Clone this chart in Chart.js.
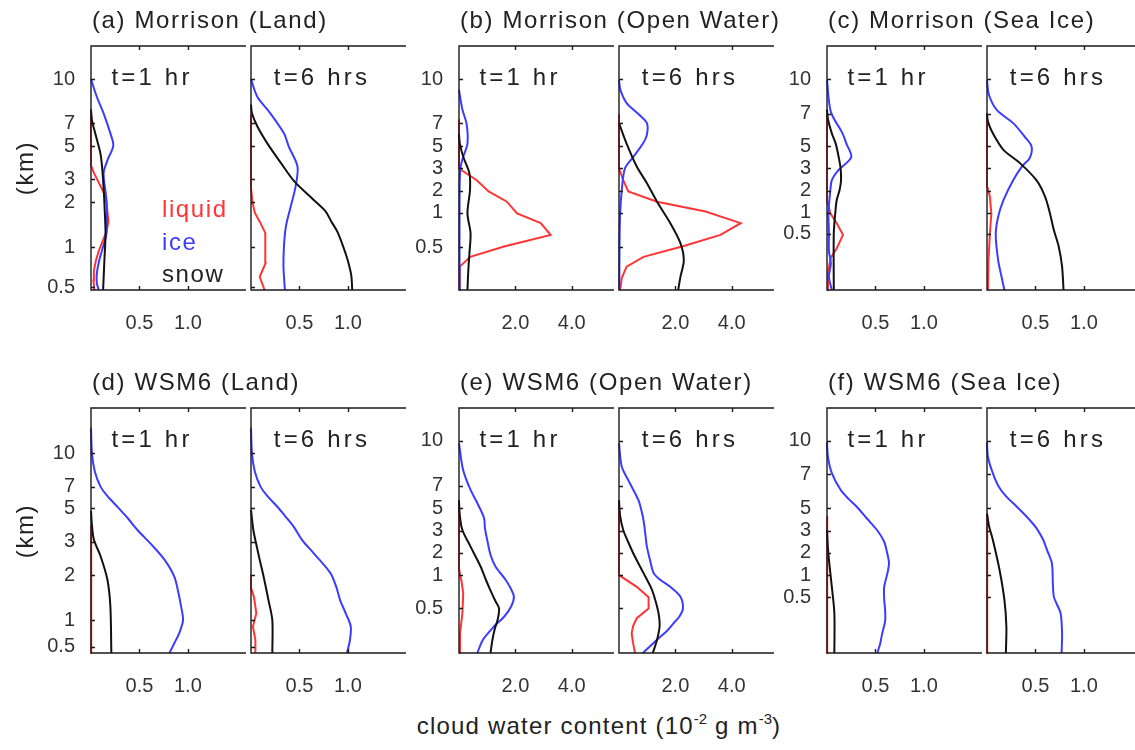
<!DOCTYPE html>
<html lang="en">
<head>
  <meta charset="UTF-8" />
  <title>Cloud water content profiles</title>
  <script src="https://cdn.jsdelivr.net/npm/chart.js"></script>
  <style>
    body { margin: 0; background: #fff; font-family: "Liberation Sans", Arial, Helvetica, sans-serif; color: #222; }
    #fig { position: relative; width: 1135px; height: 750px; overflow: hidden; }
    #fig canvas { position: absolute; }
    .txt { position: absolute; font-size: 24px; line-height: 24px; letter-spacing: 1.6px; white-space: nowrap; }
    .tlabel { letter-spacing: 3.2px; transform: translateX(-50%); }
    .sup { font-size: 15px; position: relative; top: -10px; letter-spacing: 0; }
  </style>
</head>
<body>
<div id="fig"></div>
<script>
  // vertical coordinate = model level (0 = surface, 50 = top of plot)
  // each profile: [level, cloud water content (1e-2 g m-3)]

  // (a) Morrison, land
  const aLiq1 = [[0,0.035],[2,0.025],[4,0.03],[6,0.05],[8,0.08],[10,0.12],[12,0.16],[14,0.18],[16,0.17],[18,0.16],[20,0.13],[22,0.08],[24,0.03],[25.5,0],[36,0]];
  const aIce1 = [[0,0.08],[1.4,0.06],[3.4,0.06],[6.1,0.085],[8.9,0.125],[11.6,0.16],[18.4,0.16],[23.9,0.13],[26.6,0.17],[29.6,0.23],[32.1,0.2],[36.2,0.13],[39.6,0.06],[43.2,0]];
  const aSnow1 = [[0,0.125],[6,0.138],[11.6,0.15],[17,0.14],[21,0.13],[25.3,0.114],[28,0.097],[32,0.045],[34.8,0.01],[37,0]];
  const aLiq6 = [[0,0.14],[2.7,0.09],[5.5,0.15],[9,0.15],[11.7,0.145],[14,0.09],[15.8,0.04],[18,0.015],[21,0],[36,0]];
  const aIce6 = [[0,0.35],[4.8,0.335],[8.9,0.34],[13,0.36],[17.1,0.41],[21.2,0.46],[25.3,0.48],[29.4,0.39],[32.1,0.34],[36.2,0.2],[39.6,0.065],[43.2,0]];
  const aSnow6 = [[0,1.045],[3,1.035],[6,1.0],[9,0.95],[12,0.89],[14,0.83],[16.1,0.77],[18.4,0.65],[22.2,0.45],[26,0.31],[30,0.17],[33.5,0.066],[36.2,0.01],[38,0]];

  // (b) Morrison, open water
  const bLiq1 = [[0,0],[4.8,0.03],[6.8,0.4],[8.9,1.6],[11.3,3.25],[13.7,2.9],[15.7,2.06],[18.1,1.7],[20.2,1.05],[22.5,0.63],[24.9,0],[35,0]];
  const bIce1 = [[0,0.02],[20,0.02],[25,0.05],[27.3,0.15],[30,0.3],[34,0.27],[37,0.12],[41,0]];
  const bSnow1 = [[0,0.3],[4,0.33],[7.5,0.37],[11.6,0.41],[15.7,0.3],[20.5,0.39],[23.9,0.37],[27.3,0.15],[30,0.03],[32,0]];
  const bLiq6 = [[0,0.04],[2.5,0.1],[4.8,0.27],[6.8,0.87],[9,2.3],[11.3,3.6],[13.7,4.32],[16.1,3.07],[18.1,1.35],[20.2,0.33],[22.5,0.15],[24.9,0],[36,0]];
  const bIce6 = [[0,0.01],[10,0.02],[15.7,0.04],[20.5,0.1],[24.9,0.21],[27.3,0.51],[30,0.85],[31.8,0.99],[34.2,0.99],[36,0.7],[38.3,0.27],[41,0.05],[43,0]];
  const bSnow6 = [[0,2.1],[2.7,2.18],[6.1,2.3],[9.6,2.18],[13.7,1.82],[18.1,1.35],[21.9,0.99],[25.3,0.63],[30,0.27],[34.2,0]];

  // (c) Morrison, sea ice
  const cLiq1 = [[0,0],[3.4,0.01],[6.5,0.035],[8.5,0.1],[11.3,0.165],[13.7,0.1],[15.7,0.035],[18,0.005],[20,0],[36,0]];
  const cIce1 = [[0,0.05],[2.7,0.02],[5.5,0.04],[8,0.02],[11.7,0.02],[15.7,0.015],[20.5,0.035],[22.5,0.05],[24.6,0.12],[27.2,0.25],[30,0.2],[32.1,0.16],[36.5,0.04],[43,0]];
  const cSnow1 = [[0,0.07],[11.6,0.07],[15.7,0.085],[18.4,0.1],[20.5,0.13],[22.5,0.145],[25,0.14],[27.3,0.12],[30,0.09],[32.1,0.05],[35,0.01],[37,0]];
  const cLiq6 = [[0,0.01],[6,0.015],[11.6,0.03],[15.7,0.045],[19.1,0.03],[21,0.005],[24,0],[36,0]];
  const cIce6 = [[0,0.18],[2.7,0.15],[6.1,0.115],[11.3,0.09],[15,0.115],[18.4,0.17],[22.5,0.27],[25.3,0.36],[27,0.44],[29.4,0.46],[31.4,0.39],[34.2,0.27],[36.9,0.1],[40,0.02],[43,0]];
  const cSnow6 = [[0,0.79],[4.8,0.775],[8.9,0.74],[12.3,0.69],[15.7,0.65],[19.1,0.6],[22.5,0.51],[26,0.34],[28.7,0.17],[32.1,0.06],[34.5,0.01],[36.2,0]];

  // (d) WSM6, land
  const dLiq1 = [[0,0.008],[24,0.004],[26,0]];
  const dIce1 = [[0,0.81],[2,0.86],[4,0.91],[6.7,0.95],[9.5,0.93],[12.5,0.9],[15.6,0.86],[19,0.76],[22,0.63],[25.1,0.48],[27.5,0.38],[29.9,0.27],[32,0.17],[33.9,0.1],[37,0.04],[40.7,0.01],[46,0]];
  const dSnow1 = [[0,0.21],[9.5,0.2],[14.9,0.17],[19.7,0.1],[23.1,0.03],[26,0.01],[29,0]];
  const dLiq6 = [[0,0.045],[2.7,0.045],[5.4,0.02],[8.1,0.055],[11.5,0.03],[13,0.005],[16,0]];
  const dIce6 = [[0,0.99],[2.5,1.02],[5.4,1.03],[8,0.98],[10.8,0.92],[13.5,0.88],[16.3,0.82],[20.3,0.65],[23,0.53],[25.8,0.44],[28,0.35],[29.9,0.27],[32,0.17],[33.9,0.1],[37,0.04],[40.7,0.01],[46,0]];
  const dSnow6 = [[0,0.22],[6.7,0.22],[10.8,0.18],[15.6,0.13],[19,0.09],[21.7,0.06],[25,0.025],[29.2,0]];

  // (e) WSM6, open water
  const eLiq1 = [[0,0.02],[4,0.035],[8.1,0.12],[12.2,0.15],[15,0.08],[15.6,0.05],[17,0.01],[20,0],[31,0]];
  const eIce1 = [[0,0.65],[2.7,0.85],[5.4,1.24],[7.4,1.6],[9.5,1.85],[11.5,1.95],[13,1.85],[14.9,1.66],[17.6,1.3],[20,1.12],[23.1,1.0],[25.5,0.92],[27.5,0.89],[30,0.7],[33.3,0.41],[36,0.22],[38,0.12],[42.8,0]];
  const eSnow1 = [[0,1.12],[2.5,1.18],[4.7,1.26],[7,1.38],[9.1,1.42],[10.5,1.3],[13,1.1],[15,0.95],[17.6,0.77],[21.7,0.41],[25.1,0.12],[28,0.03],[31.2,0]];
  const eLiq6 = [[0,0.57],[2,0.5],[4,0.45],[5.5,0.5],[7.1,0.63],[9.1,1.05],[11.4,1.05],[13.5,0.63],[15.9,0],[31,0]];
  const eIce6 = [[0,0.85],[2.7,1.35],[4.5,1.7],[6.1,1.94],[7.5,2.15],[9.1,2.27],[11.5,2.18],[13.5,1.82],[15,1.45],[16.3,1.23],[19,1.1],[21.7,0.99],[24.5,0.93],[27.1,0.87],[29,0.8],[31.2,0.69],[34.5,0.4],[38,0.1],[42.8,0]];
  const eSnow6 = [[0,1.2],[2.7,1.35],[5.4,1.44],[7.5,1.42],[9.5,1.35],[12.9,1.17],[16.3,0.87],[20.3,0.51],[23,0.3],[25.1,0.15],[28,0.04],[31.2,0]];

  // (f) WSM6, sea ice
  const fLiq1 = [[0,0.006],[24,0.004],[28,0]];
  const fIce1 = [[0,0.52],[2,0.55],[4,0.57],[6.5,0.6],[8.8,0.6],[11,0.59],[13.5,0.59],[16,0.62],[18.3,0.64],[20.5,0.62],[22.7,0.59],[25,0.52],[27.5,0.41],[30,0.3],[31.5,0.22],[33.3,0.14],[36.7,0.05],[40,0.01],[43,0]];
  const fSnow1 = [[0,0.076],[8.1,0.076],[13.5,0.05],[19,0.02],[22,0.008],[25.1,0]];
  const fLiq6 = [[0,0.006],[24,0.004],[28,0]];
  const fIce6 = [[0,0.77],[4,0.775],[8.1,0.76],[10,0.72],[11.5,0.69],[14,0.68],[18.3,0.67],[21,0.62],[23.1,0.58],[25.5,0.51],[27.8,0.41],[30,0.3],[31.9,0.2],[34,0.12],[36.7,0.06],[40,0.01],[43,0]];
  const fSnow6 = [[0,0.195],[5.4,0.2],[10.8,0.18],[16.9,0.13],[23.1,0.06],[26,0.02],[28.5,0]];

  // height tick labels (km) and the model level where each height sits
  const kmLabels = ['0.5', '1', '2', '3', '5', '7', '10'];
  const aTicks = [0.6, 8.8, 18.0, 22.7, 29.5, 34.2, 43.2];
  const bTicks = [8.8, 15.8, 20.3, 25.0, 29.5, 34.2, 43.2];
  const cTicks = [11.5, 15.8, 20.3, 25.0, 29.5, 36.1, 43.2];
  const dTicks = [1.3, 6.7, 15.9, 22.7, 29.5, 33.9, 40.8];
  const eTicks = [9.1, 15.9, 20.5, 25.0, 29.5, 34.1, 43.3];
  const fTicks = [11.4, 15.9, 20.5, 25.0, 29.5, 36.5, 43.3];

  const xTicksSmall = [0.5, 1.0];
  const xTicksLarge = [2.0, 4.0];
  const xMaxSmall = 1.6;
  const xMaxLarge = 5.5;
  const levelMax = 50;

  const panels = [
    { title: '(a) Morrison (Land)', row: 0, col: 0, yTicks: aTicks, xTicks: xTicksSmall, xMax: xMaxSmall, t1: [aLiq1, aIce1, aSnow1], t6: [aLiq6, aIce6, aSnow6], legend: true },
    { title: '(b) Morrison (Open Water)', row: 0, col: 1, yTicks: bTicks, xTicks: xTicksLarge, xMax: xMaxLarge, t1: [bLiq1, bIce1, bSnow1], t6: [bLiq6, bIce6, bSnow6] },
    { title: '(c) Morrison (Sea Ice)', row: 0, col: 2, yTicks: cTicks, xTicks: xTicksSmall, xMax: xMaxSmall, t1: [cLiq1, cIce1, cSnow1], t6: [cLiq6, cIce6, cSnow6] },
    { title: '(d) WSM6 (Land)', row: 1, col: 0, yTicks: dTicks, xTicks: xTicksSmall, xMax: xMaxSmall, t1: [dLiq1, dIce1, dSnow1], t6: [dLiq6, dIce6, dSnow6] },
    { title: '(e) WSM6 (Open Water)', row: 1, col: 1, yTicks: eTicks, xTicks: xTicksLarge, xMax: xMaxLarge, t1: [eLiq1, eIce1, eSnow1], t6: [eLiq6, eIce6, eSnow6] },
    { title: '(f) WSM6 (Sea Ice)', row: 1, col: 2, yTicks: fTicks, xTicks: xTicksSmall, xMax: xMaxSmall, t1: [fLiq1, fIce1, fSnow1], t6: [fLiq6, fIce6, fSnow6] }
  ];

  // layout (pixels)
  const COL_X = [91, 459, 827];
  const PAIR_DX = 160;
  const PW = 155;
  const ROW_TOP = [46, 408];
  const ROW_H = [244, 245];
  const PAD_T = 32, PAD_R = 4, X_H = 50;
  const FONT = '"Liberation Sans", Arial, Helvetica, sans-serif';
  const RED = '#ff3535', BLUE = '#3c3cff', BLACK = '#111111';

  const fig = document.getElementById('fig');

  function addText(html, left, top, cls, extra) {
    const d = document.createElement('div');
    d.className = 'txt' + (cls ? ' ' + cls : '');
    d.innerHTML = html;
    d.style.left = left + 'px';
    d.style.top = top + 'px';
    if (extra) Object.assign(d.style, extra);
    fig.appendChild(d);
    return d;
  }

  // axes box (top, left, bottom) with inward ticks, drawn over the lines
  const framePlugin = {
    id: 'frame',
    afterDatasetsDraw(chart) {
      const { ctx, chartArea: a, scales: { x, y } } = chart;
      ctx.save();
      ctx.strokeStyle = '#1a1a1a';
      ctx.lineWidth = 1.4;
      ctx.beginPath();
      ctx.moveTo(a.right, a.top);
      ctx.lineTo(a.left, a.top);
      ctx.lineTo(a.left, a.bottom);
      ctx.lineTo(a.right, a.bottom);
      x.ticks.forEach(t => {
        const px = Math.round(x.getPixelForValue(t.value)) + 0.5;
        ctx.moveTo(px, a.top); ctx.lineTo(px, a.top + 4);
        ctx.moveTo(px, a.bottom); ctx.lineTo(px, a.bottom - 4);
      });
      y.ticks.forEach(t => {
        const py = Math.round(y.getPixelForValue(t.value)) + 0.5;
        ctx.moveTo(a.left, py); ctx.lineTo(a.left + 4, py);
      });
      ctx.stroke();
      ctx.restore();
    }
  };

  function ds(label, pts, color, tension, order) {
    return {
      label,
      data: pts.map(p => ({ x: p[1], y: p[0] })),
      borderColor: color,
      borderWidth: 2,
      pointRadius: 0,
      tension,
      order,
      clip: 3
    };
  }

  function makeChart(p, plotLeft, series, showY) {
    const plotTop = ROW_TOP[p.row], plotH = ROW_H[p.row];
    const yW = showY ? 60 : 6;
    const cv = document.createElement('canvas');
    cv.width = yW + PW + PAD_R;
    cv.height = PAD_T + plotH + X_H;
    cv.style.left = (plotLeft - yW) + 'px';
    cv.style.top = (plotTop - PAD_T) + 'px';
    fig.appendChild(cv);
    const [liq, ice, snow] = series;
    new Chart(cv, {
      type: 'line',
      data: {
        datasets: [
          ds('liquid', liq, RED, 0, 2),
          ds('ice', ice, BLUE, 0.3, 1),
          ds('snow', snow, BLACK, 0.3, 0)
        ]
      },
      options: {
        responsive: false,
        animation: false,
        events: [],
        indexAxis: 'y',
        layout: { padding: { top: PAD_T, right: PAD_R, left: 0, bottom: 0 } },
        plugins: { legend: { display: false }, tooltip: { enabled: false } },
        scales: {
          x: {
            type: 'linear', position: 'bottom', min: 0, max: p.xMax,
            grid: { display: false, drawTicks: false },
            border: { display: false },
            afterBuildTicks: s => { s.ticks = p.xTicks.map(v => ({ value: v })); },
            afterFit: s => { s.height = X_H; },
            ticks: {
              padding: 21, autoSkip: false, maxRotation: 0, color: '#333',
              font: { family: FONT, size: 20 },
              callback: v => v.toFixed(1)
            }
          },
          y: {
            type: 'linear', position: 'left', min: 0, max: levelMax,
            grid: { display: false, drawTicks: false },
            border: { display: false },
            afterBuildTicks: s => { s.ticks = p.yTicks.map(v => ({ value: v })); },
            afterFit: s => { s.width = yW; },
            ticks: {
              display: showY, padding: 16, autoSkip: false, color: '#333',
              font: { family: FONT, size: 20 },
              callback: (v, i) => kmLabels[i]
            }
          }
        }
      },
      plugins: [framePlugin]
    });
  }

  panels.forEach(p => {
    const left1 = COL_X[p.col];
    const left6 = left1 + PAIR_DX;
    const top = ROW_TOP[p.row];
    makeChart(p, left1, p.t1, true);
    makeChart(p, left6, p.t6, false);
    addText(p.title, left1 + 1, top - 38);
    addText('t=1 hr', left1 + 61, top + 19, 'tlabel');
    addText('t=6 hrs', left6 + 71, top + 19, 'tlabel');
    if (p.legend) {
      addText('liquid', 162, 197, '', { color: RED });
      addText('ice', 162, 230, '', { color: BLUE });
      addText('snow', 162, 262, '', { color: '#222' });
    }
  });

  ROW_TOP.forEach((t, r) => {
    addText('(km)', 25, t + ROW_H[r] / 2, '', { transform: 'translate(-50%,-50%) rotate(-90deg)' });
  });

  addText('cloud water content (10<span class="sup">-2</span> g m<span class="sup">-3</span>)', 599, 714, '', { transform: 'translateX(-50%)', letterSpacing: '1.2px' });
</script>
</body>
</html>
